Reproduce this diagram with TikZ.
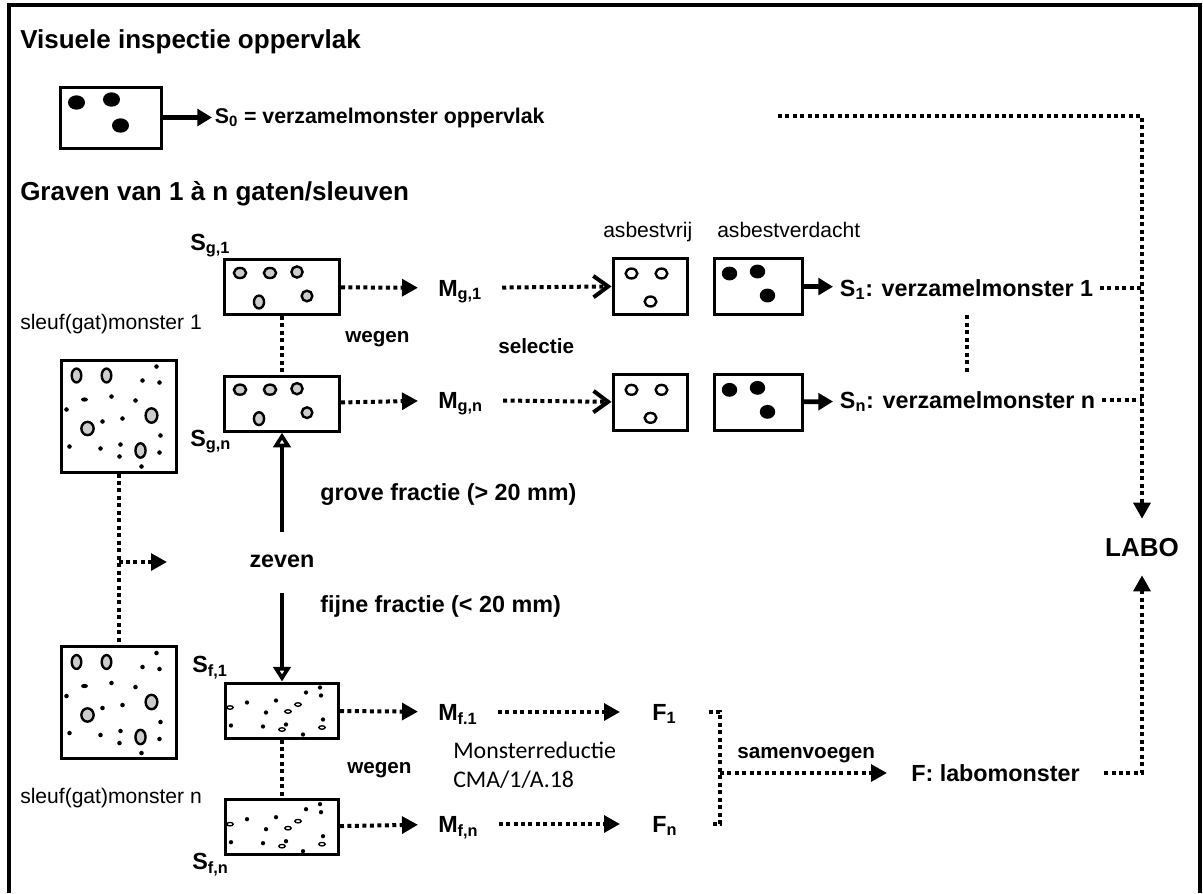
\documentclass[tikz,border=0pt]{standalone}
\usepackage{fontspec}
\setmainfont{Liberation Sans}
\newfontfamily\calibrifont{Carlito}
\usetikzlibrary{arrows.meta,positioning}

\begin{document}
\begin{tikzpicture}[
    x=0.75pt, y=-0.75pt,
    every node/.style={inner sep=0pt},
    sample/.style={draw, line width=2.25pt, minimum width=86.25pt, minimum height=41.25pt},
    soil/.style={sample, minimum height=84pt},
    pick/.style={sample, minimum width=55.5pt, minimum height=42pt},
    suspect/.style={pick, minimum width=66pt},
    heading/.style={font=\fontsize{19.5}{23}\selectfont\bfseries, anchor=base west},
    lbl/.style={font=\fontsize{17.5}{21}\selectfont\bfseries, text height=12.5pt, text depth=0pt, anchor=west},
    note/.style={font=\fontsize{15.5}{19}\selectfont\bfseries, anchor=base west},
    remark/.style={font=\fontsize{15.8}{19}\selectfont, anchor=base west},
    reduction/.style={font=\calibrifont\fontsize{17.9}{21}\selectfont, anchor=base west},
    dotline/.style={line width=3pt, dash pattern=on 3pt off 2.6pt},
    dotarrow/.style={dotline, -{Triangle[length=12pt,width=12.5pt]}},
    selarrow/.style={dotline, -{Straight Barb[length=11pt,width=16pt]}},
    arrow/.style={line width=3.5pt, -{Triangle[length=11pt,width=12.5pt]}},
    sieve/.style={line width=3pt, -{Triangle[open,length=11pt,width=13pt]}},
    coarse/.style={draw, fill=gray!40, line width=1.8pt},
    clean/.style={draw, fill=white, line width=1.8pt},
    speck/.style={draw, line width=1pt}
  ]
    \useasboundingbox (0,0) rectangle (1203,893);
    \draw[line width=2.5pt] (9,893) -- (9,5) -- (1200,5) -- (1200,893);

    % oppervlak
    \node[heading] (inspect) at (20,48) {Visuele inspectie oppervlak};
    \node[sample, minimum width=75.75pt, minimum height=45.75pt] (s0box) at (110.5,117.5) {};
    \node[lbl, font=\fontsize{16}{19}\selectfont\bfseries, inner xsep=2pt] (s0) at (212,115) {S\textsubscript{0} = verzamelmonster oppervlak};
    \coordinate (s0end) at (778,116);

    % gaten/sleuven
    \node[heading] (dig) at (20,200) {Graven van 1 à n gaten/sleuven};
    \node[soil] (pit1) at (118.5,416) {};
    \node[soil] (pitn) at (118.5,702.5) {};
    \node[remark] (pit1lbl) at (20,329) {sleuf(gat)monster 1};
    \node[remark] (pitnlbl) at (20,803) {sleuf(gat)monster n};
    \coordinate (sievein) at (167,562);

    \node[sample] (sg1) at (282,287) {};
    \node[sample, below=44pt of sg1] (sgn) {};
    \node[lbl] (sg1lbl) at (190,242) {S\textsubscript{g,1}};
    \node[lbl] (sgnlbl) at (190,438) {S\textsubscript{g,n}};
    \node[lbl, anchor=center, inner ysep=14pt] (zeven) at (282,559) {zeven};
    \node[lbl] (grove) at (320,492) {grove fractie (> 20 mm)};
    \node[lbl] (fijn) at (320,604) {fijne fractie (< 20 mm)};
    \node[sample, minimum width=84.75pt] (sf1) at (282,710.5) {};
    \node[sample, minimum width=84.75pt, below=44pt of sf1] (sfn) {};
    \node[lbl] (sf1lbl) at (192,664) {S\textsubscript{f,1}};
    \node[lbl] (sfnlbl) at (192,861) {S\textsubscript{f,n}};

    % grove fractie
    \node[note] (wegen1) at (345,342) {wegen};
    \node[note] (select) at (498,353) {selectie};
    \node[lbl, inner xsep=15pt] (mg1) at (418,288) {M\textsubscript{g,1}};
    \node[lbl, inner xsep=15pt] (mgn) at (418,400) {M\textsubscript{g,n}};
    \node[pick] (vrij1) at (650,286) {};
    \node[pick, below=43pt of vrij1] (vrijn) {};
    \node[suspect, right=18pt of vrij1] (verd1) {};
    \node[suspect, right=18pt of vrijn] (verdn) {};
    \node[remark] (vrijlbl) at (603,237) {asbestvrij};
    \node[remark] (verdlbl) at (717,237) {asbestverdacht};
    \node[lbl, inner xsep=5pt] (s1) at (833,288) {S\textsubscript{1}: verzamelmonster 1};
    \node[lbl, inner xsep=5pt] (sn) at (833,400) {S\textsubscript{n}: verzamelmonster n};
    \node[lbl, font=\fontsize{19.5}{23}\selectfont\bfseries, text height=14pt, anchor=center, inner ysep=14pt] (labo) at (1142,547) {LABO};

    % fijne fractie
    \node[note] (wegen2) at (347,773) {wegen};
    \node[lbl, inner xsep=15pt] (mf1) at (418,712) {M\textsubscript{f.1}};
    \node[lbl, inner xsep=15pt] (mfn) at (418,824) {M\textsubscript{f,n}};
    \node[reduction] (reduc) at (453,758) {Monsterreductie};
    \node[reduction] (cma) at (453,787) {CMA/1/A.18};
    \node[lbl, inner xsep=24pt] (f1) at (620,712) {F\textsubscript{1}};
    \node[lbl, inner xsep=24pt] (fn) at (620,824) {F\textsubscript{n}};
    \coordinate (fjoin) at (720,773);
    \node[note] (merge) at (737,758) {samenvoegen};
    \node[lbl, inner xsep=18pt] (flab) at (887,773) {F: labomonster};

    % inhoud van de monsters
    \foreach \dx/\dy in {18/17,53/14,62/40}
      \fill ([shift={(\dx,\dy)}]s0box.north west) ellipse [x radius=6.4pt, y radius=5.4pt];
    \foreach \bx in {pit1,pitn} {
      \foreach \dx/\dy/\rx/\ry in {17/17/3.6/5.2,47/17/3.6/5.2,92/57/4.4/5.4,28/70/4.6/5,81/92/3.8/5.4}
        \draw[coarse] ([shift={(\dx,\dy)}]\bx.north west) ellipse [x radius=\rx pt, y radius=\ry pt];
      \foreach \dx/\dy in {97/8,83/22,100/24,52/38,76/42,7/51,43/63,63/60,101/77,10/88,41/90,61/86,60/98,100/94,82/108}
        \fill ([shift={(\dx,\dy)}]\bx.north west) circle (1.7pt);
      \fill ([shift={(25,41)}]\bx.north west) ellipse [x radius=2.6pt, y radius=1.6pt];
    }
    \foreach \bx in {sg1,sgn}
      \foreach \dx/\dy/\rx/\ry in {17/15/4.6/3.8,47/15/4.6/3.8,74/14/4.2/4.2,36/44/3.8/4.8,84/38/4/4}
        \draw[coarse] ([shift={(\dx,\dy)}]\bx.north west) ellipse [x radius=\rx pt, y radius=\ry pt];
    \foreach \bx in {vrij1,vrijn}
      \foreach \dx/\dy in {20/17,50/17,39/45}
        \draw[clean] ([shift={(\dx,\dy)}]\bx.north west) ellipse [x radius=4.4pt, y radius=3.7pt];
    \foreach \bx in {verd1,verdn}
      \foreach \dx/\dy in {17/17,45/15,55/39}
        \fill ([shift={(\dx,\dy)}]\bx.north west) ellipse [x radius=5.8pt, y radius=5.2pt];
    \foreach \bx in {sf1,sfn} {
      \foreach \dx/\dy in {23/21,52/19,42/31,82/11,96/6,97/14,99/38,7/44,39/45,62/43,79/53}
        \fill ([shift={(\dx,\dy)}]\bx.north west) circle (1.6pt);
      \foreach \dx/\dy in {6/26,64/30,74/23,98/46,58/48}
        \draw[speck] ([shift={(\dx,\dy)}]\bx.north west) ellipse [x radius=2.4pt, y radius=1.3pt];
    }

    % verbindingen
    \draw[arrow] (s0box.east) -- (s0box.east -| s0.west);
    \draw[dotarrow] (s0end) -| (labo.north);
    \draw[dotline] (pit1) -- (pitn);
    \draw[dotarrow] (sievein -| pit1.south) -- (sievein);
    \draw[sieve] (zeven) -- (sgn);
    \draw[sieve, shorten <=5pt] (zeven) -- (sf1);
    \draw[dotline] (sg1) -- (sgn);
    \draw[dotline] (sf1) -- (sfn);
    \draw[dotarrow] (sg1) -- (mg1);
    \draw[dotarrow] (sgn) -- (mgn);
    \draw[selarrow] (mg1) -- (vrij1);
    \draw[selarrow] (mgn) -- (vrijn);
    \draw[arrow] (verd1) -- (s1);
    \draw[arrow] (verdn) -- (sn);
    \draw[dotline] (s1.east) -- (s1.east -| labo);
    \draw[dotline] (sn.east) -- (sn.east -| labo);
    \draw[dotline, shorten <=14pt, shorten >=14pt] (s1.south) -- (s1.south |- sn.north);
    \draw[dotarrow] (sf1) -- (mf1);
    \draw[dotarrow] (sfn) -- (mfn);
    \draw[dotarrow] (mf1) -- (f1);
    \draw[dotarrow] (mfn) -- (fn);
    \draw[dotline] (f1.east) -| (fjoin) |- (fn.east);
    \draw[dotarrow] (fjoin) -- (flab);
    \draw[dotarrow] (flab.east) -| (labo.south);
  \end{tikzpicture}
\end{document}
